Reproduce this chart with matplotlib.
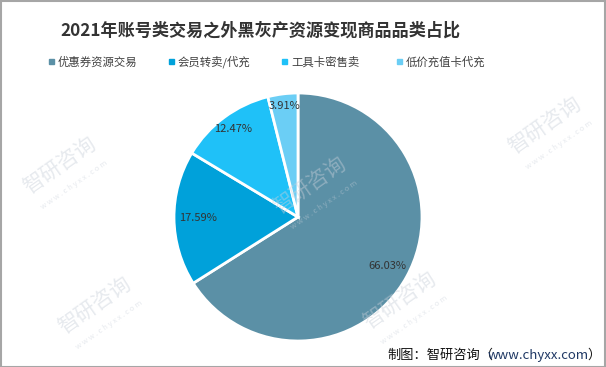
import matplotlib.pyplot as plt
import numpy as np

categories = ["优惠券资源交易", "会员转卖/代充", "工具卡密售卖", "低价充值卡代充"]
shares = [66.03, 17.59, 12.47, 3.91]
colors = ["#5B90A6", "#00A1DA", "#1FC1F8", "#6BCEF5"]
label_dist = [0.82, 0.81, 0.88, 0.90]

plt.rcParams["font.family"] = ["Noto Sans CJK SC", "DejaVu Sans"]

W, H = 606, 367
fig = plt.figure(figsize=(W / 100, H / 100), dpi=100)
fig.patch.set_facecolor("white")

# pie axes: center (298, 217) px, radius 124 px
r = 124
cx, cy = 298, 217
ax = fig.add_axes([(cx - r) / W, 1 - (cy + r) / H, 2 * r / W, 2 * r / H])
ax.patch.set_alpha(0)
wedges, _ = ax.pie(shares, colors=colors, startangle=90, counterclock=False,
                   wedgeprops=dict(edgecolor="white", linewidth=2))
ax.set_xlim(-1, 1)
ax.set_ylim(-1, 1)
ax.set_aspect("equal")
ax.axis("off")

# faint watermarks, kept inside the frame
for (wx, wy) in [(60, 165), (95, 305), (310, 185), (400, 300), (545, 125)]:
    fig.text(wx / W, 1 - wy / H, "智研咨询", fontsize=15, color="#C9D0DA",
             alpha=0.45, rotation=35, ha="center", va="center")
    fig.text((wx + 14) / W, 1 - (wy + 20) / H, "w w w . c h y x x . c o m",
             fontsize=5.5, color="#C9D0DA", alpha=0.45, rotation=35,
             ha="center", va="center")

for w, v, d in zip(wedges, shares, label_dist):
    ang = np.deg2rad((w.theta1 + w.theta2) / 2)
    ax.text(d * np.cos(ang), d * np.sin(ang), f"{v:.2f}%", fontsize=8,
            color="#333333", ha="center", va="center")

# title
fig.text(260 / W, 1 - 31 / H, "2021年账号类交易之外黑灰产资源变现商品品类占比",
         fontsize=12.3, fontweight="bold", color="#333333", ha="center", va="center")

# legend
leg_x = [51, 171, 284, 399]
for x, c, name in zip(leg_x, colors, categories):
    fig.patches.append(plt.Rectangle(((x - 2) / W, 1 - 64 / H), 5 / W, 5 / H,
                                     transform=fig.transFigure, color=c))
    fig.text((x + 7) / W, 1 - 62 / H, name, fontsize=8.2, color="#404040",
             ha="left", va="center")

# source
fig.text(387 / W, 1 - 355 / H, "制图：智研咨询（", fontsize=9.5, color="#111111",
         ha="left", va="center")
fig.text(488 / W, 1 - 355 / H, "www.chyxx.com", fontsize=9.5, color="#1F3864",
         ha="left", va="center")
fig.text(601 / W, 1 - 355 / H, "）", fontsize=9.5, color="#111111",
         ha="right", va="center")

# border
fig.patches.append(plt.Rectangle((0.5 / W, 0.5 / H), 1 - 1.5 / W, 1 - 1.5 / H,
                                 transform=fig.transFigure, fill=False,
                                 edgecolor="#A6A6A6", linewidth=1.5))

fig.savefig("out.png", dpi=100)
